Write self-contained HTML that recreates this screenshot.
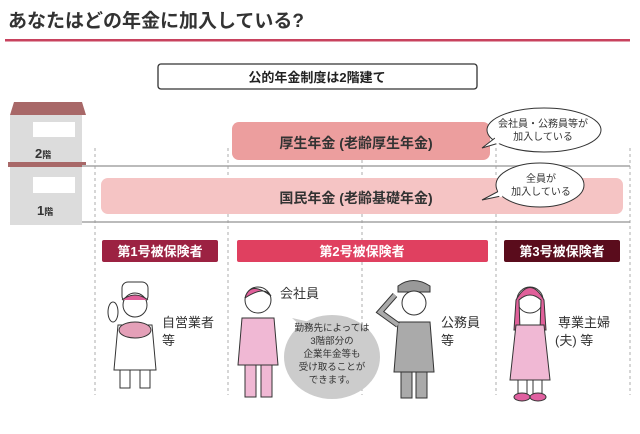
<!DOCTYPE html>
<html><head><meta charset="utf-8"><style>
body{margin:0;width:640px;height:429px;background:#fff;overflow:hidden;font-family:"Liberation Sans","Noto Sans CJK JP",sans-serif}
</style></head><body>
<svg width="640" height="429" viewBox="0 0 640 429" xmlns="http://www.w3.org/2000/svg" font-family="Liberation Sans, Noto Sans CJK JP, sans-serif">
<text x="8" y="27" font-size="19" font-weight="bold" fill="#333">あなたはどの年金に加入している?</text>
<rect x="5" y="39" width="625" height="2.5" fill="#c8425e"/>
<rect x="158" y="64" width="319" height="25" rx="3" fill="#fff" stroke="#333" stroke-width="1.3"/>
<text x="317" y="82" font-size="13" font-weight="bold" fill="#222" text-anchor="middle">公的年金制度は2階建て</text>
<polygon points="14,102 82,102 86,115 10,115" fill="#a86868"/>
<rect x="10" y="115" width="72" height="110" fill="#dcdcdc"/>
<rect x="33" y="122" width="42" height="15" fill="#fff"/>
<rect x="33" y="177" width="42" height="16" fill="#fff"/>
<rect x="8" y="162" width="78" height="5" fill="#a86868"/>
<text x="35" y="158" font-size="13" font-weight="bold" fill="#333">2<tspan font-size="9">階</tspan></text>
<text x="37" y="215" font-size="13" font-weight="bold" fill="#333">1<tspan font-size="9">階</tspan></text>
<rect x="82" y="165" width="548" height="2" fill="#bbb"/>
<rect x="82" y="221" width="548" height="2" fill="#bbb"/>
<g stroke="#999" stroke-width="0.8" stroke-dasharray="3,3">
<line x1="95" y1="148" x2="95" y2="395"/><line x1="228" y1="148" x2="228" y2="395"/>
<line x1="362" y1="148" x2="362" y2="395"/><line x1="496" y1="148" x2="496" y2="395"/>
<line x1="630" y1="148" x2="630" y2="395"/>
</g>
<rect x="232" y="122" width="258" height="38" rx="7" fill="#ec9e9e"/>
<text x="356" y="148" font-size="14" font-weight="bold" fill="#333" text-anchor="middle">厚生年金 (老齢厚生年金)</text>
<rect x="101" y="178" width="522" height="36" rx="7" fill="#f5c4c4"/>
<text x="356" y="203" font-size="14" font-weight="bold" fill="#333" text-anchor="middle">国民年金 (老齢基礎年金)</text>
<ellipse cx="544" cy="130" rx="57" ry="22" fill="#fff" stroke="#333" stroke-width="1"/>
<path d="M495,138 L482,148 L499,143" fill="#fff" stroke="#333" stroke-width="1"/>
<path d="M496,136 L498,144" stroke="#fff" stroke-width="3"/>
<ellipse cx="540" cy="185" rx="44" ry="22" fill="#fff" stroke="#333" stroke-width="1"/>
<path d="M499,191 L482,200 L501,196" fill="#fff" stroke="#333" stroke-width="1"/>
<path d="M499,189 L501,197" stroke="#fff" stroke-width="3"/>
<g font-size="10" fill="#333" text-anchor="middle">
<text x="543" y="127">会社員・公務員等が</text><text x="543" y="140">加入している</text>
<text x="541" y="182">全員が</text><text x="541" y="195">加入している</text>
</g>
<rect x="102" y="240" width="116" height="22" rx="2" fill="#9c2242"/>
<rect x="237" y="240" width="251" height="22" rx="2" fill="#e04060"/>
<rect x="504" y="240" width="116" height="22" rx="2" fill="#5a0c1c"/>
<g font-size="13" font-weight="bold" fill="#fff" text-anchor="middle">
<text x="160" y="256">第1号被保険者</text><text x="362" y="256">第2号被保険者</text><text x="562" y="256">第3号被保険者</text>
</g>
<g stroke="#333" stroke-width="1">
<rect x="122" y="282" width="26" height="20" rx="6" fill="#fff"/>
<circle cx="135" cy="305" r="12" fill="#fff"/>
<path d="M122,300 Q135,290 148,300" fill="#e0609a"/>
<path d="M118,325 L152,325 L156,370 L114,370 Z" fill="#fff"/>
<ellipse cx="135" cy="330" rx="16" ry="8" fill="#e4a0b8"/>
<rect x="120" y="370" width="10" height="18" fill="#fff"/><rect x="140" y="370" width="10" height="18" fill="#fff"/>
<ellipse cx="113" cy="312" rx="5" ry="10" fill="#fff"/>
<circle cx="258" cy="300" r="13" fill="#fff"/>
<path d="M245,298 Q250,280 271,296 Q265,285 245,298" fill="#e0609a"/>
<path d="M242,318 L274,318 L278,365 L238,365 Z" fill="#f0b8d4"/>
<rect x="245" y="365" width="11" height="32" fill="#f0b8d4"/><rect x="261" y="365" width="11" height="32" fill="#f0b8d4"/>
<path d="M398,286 Q413,275 430,286 L430,292 L398,292 Z" fill="#999"/>
<circle cx="414" cy="303" r="12" fill="#fff"/>
<path d="M398,322 L430,322 L434,372 L394,372 Z" fill="#aaa"/>
<rect x="401" y="372" width="11" height="26" fill="#aaa"/><rect x="416" y="372" width="11" height="26" fill="#aaa"/>
<path d="M398,325 L380,312 L395,295" fill="none" stroke="#333" stroke-width="6"/>
<path d="M398,325 L380,312 L395,295" fill="none" stroke="#aaa" stroke-width="4"/>
<circle cx="530" cy="300" r="13" fill="#fff"/>
<path d="M516,300 Q530,275 544,300 L546,330 L540,330 L541,300 Q530,290 519,300 L520,330 L514,330 Z" fill="#e0609a"/>
<path d="M516,325 L544,325 L550,380 L510,380 Z" fill="#f0b8d4"/>
<rect x="518" y="380" width="9" height="14" fill="#fff"/><rect x="533" y="380" width="9" height="14" fill="#fff"/>
<ellipse cx="522" cy="397" rx="8" ry="4" fill="#e060a0"/><ellipse cx="538" cy="397" rx="8" ry="4" fill="#e060a0"/>
</g>
<path d="M300,325 L292,318 L310,322 Z" fill="#ccc"/>
<ellipse cx="332" cy="357" rx="48" ry="42" fill="#ccc"/>
<g font-size="9.5" fill="#333" text-anchor="middle">
<text x="332" y="331">勤務先によっては</text><text x="332" y="344">3階部分の</text><text x="332" y="357">企業年金等も</text><text x="332" y="370">受け取ることが</text><text x="332" y="383">できます。</text>
</g>
<g font-size="13" fill="#333">
<text x="162" y="327">自営業者</text><text x="162" y="345">等</text>
<text x="280" y="298">会社員</text>
<text x="441" y="327">公務員</text><text x="441" y="345">等</text>
<text x="558" y="327">専業主婦</text><text x="555" y="345">(夫) 等</text>
</g>
</svg>
</body></html>
